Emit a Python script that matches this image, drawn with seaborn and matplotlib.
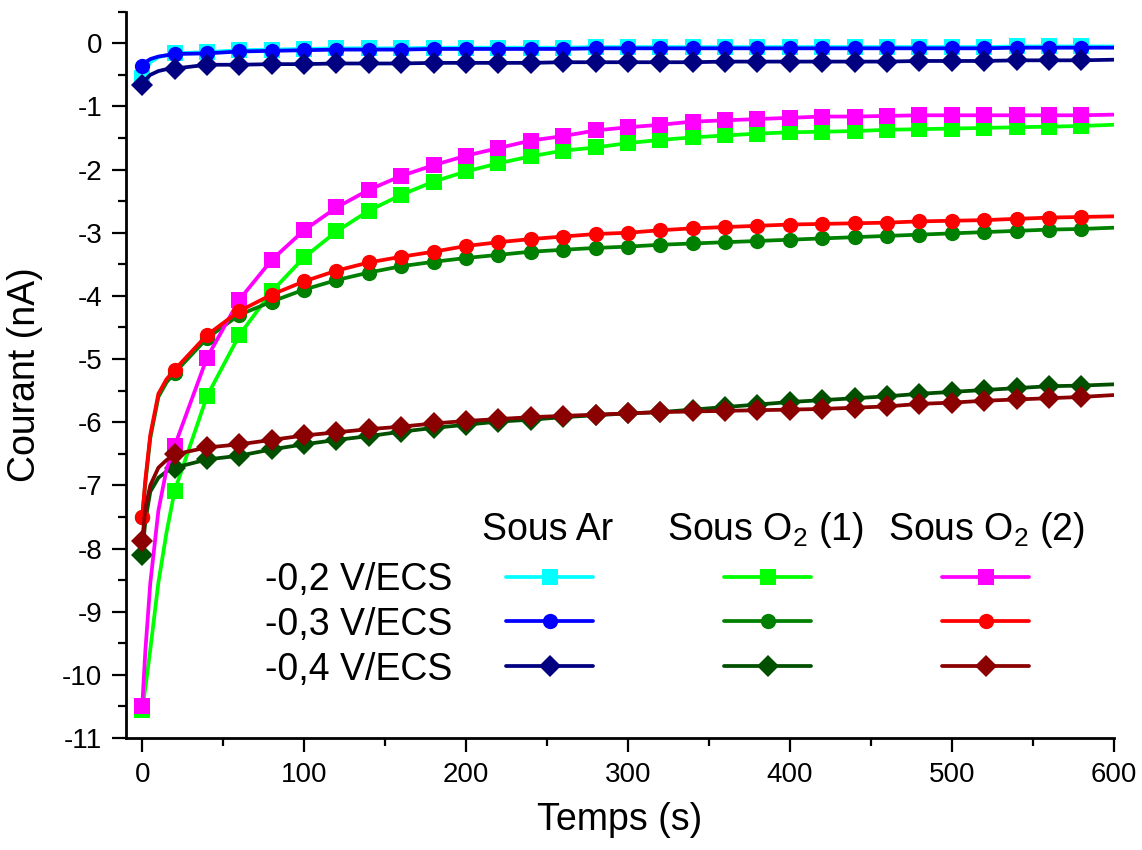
import matplotlib
matplotlib.use("Agg")
import matplotlib.pyplot as plt
import numpy as np
import pandas as pd
import seaborn as sns
from matplotlib.ticker import MultipleLocator, FuncFormatter
from matplotlib.lines import Line2D

# ---------------- data ----------------
temps = [0, 2, 5, 10, 15, 20, 40, 60, 80, 100, 120, 140, 160, 180, 200, 220,
         240, 260, 280, 300, 320, 340, 360, 380, 400, 420, 440, 460, 480, 500,
         520, 540, 560, 580, 600]

# Sous Ar
ar_m02 = [-0.55, -0.42, -0.30, -0.22, -0.19, -0.16, -0.14, -0.11, -0.10, -0.09,
          -0.08, -0.08, -0.08, -0.07, -0.07, -0.07, -0.07, -0.07, -0.06, -0.06,
          -0.06, -0.06, -0.06, -0.06, -0.06, -0.06, -0.06, -0.06, -0.06, -0.06,
          -0.06, -0.05, -0.05, -0.05, -0.05]
ar_m03 = [-0.36, -0.30, -0.25, -0.21, -0.19, -0.17, -0.16, -0.13, -0.12, -0.11,
          -0.10, -0.10, -0.10, -0.09, -0.09, -0.09, -0.09, -0.09, -0.08, -0.08,
          -0.08, -0.08, -0.08, -0.08, -0.08, -0.08, -0.08, -0.08, -0.08, -0.08,
          -0.08, -0.07, -0.07, -0.07, -0.07]
ar_m04 = [-0.66, -0.58, -0.50, -0.44, -0.41, -0.40, -0.34, -0.34, -0.33, -0.33,
          -0.32, -0.32, -0.32, -0.31, -0.31, -0.31, -0.31, -0.30, -0.30, -0.30,
          -0.30, -0.30, -0.29, -0.29, -0.29, -0.29, -0.29, -0.29, -0.28, -0.28,
          -0.28, -0.27, -0.27, -0.27, -0.26]

# Sous O2 (1)
o2a_m02 = [-10.55, -10.2, -9.6, -8.54, -7.75, -7.09, -5.59, -4.62, -3.93, -3.39,
           -2.98, -2.65, -2.40, -2.19, -2.03, -1.90, -1.79, -1.70, -1.65, -1.58,
           -1.53, -1.49, -1.46, -1.43, -1.41, -1.40, -1.39, -1.37, -1.36, -1.35,
           -1.34, -1.33, -1.32, -1.31, -1.29]
o2a_m03 = [-7.50, -6.95, -6.25, -5.60, -5.37, -5.22, -4.67, -4.30, -4.09, -3.90,
           -3.75, -3.63, -3.53, -3.46, -3.40, -3.35, -3.30, -3.27, -3.24, -3.22,
           -3.19, -3.17, -3.15, -3.13, -3.11, -3.09, -3.07, -3.05, -3.03, -3.01,
           -2.99, -2.97, -2.95, -2.94, -2.92]
o2a_m04 = [-8.10, -7.55, -7.10, -6.88, -6.78, -6.72, -6.59, -6.53, -6.43, -6.35,
           -6.28, -6.22, -6.15, -6.09, -6.04, -5.99, -5.96, -5.92, -5.89, -5.86,
           -5.84, -5.80, -5.76, -5.72, -5.68, -5.65, -5.62, -5.59, -5.55, -5.52,
           -5.49, -5.46, -5.43, -5.42, -5.40]

# Sous O2 (2)
o2b_m02 = [-10.5, -9.6, -8.55, -7.4, -6.75, -6.38, -4.98, -4.06, -3.43, -2.96,
           -2.60, -2.32, -2.10, -1.93, -1.78, -1.66, -1.54, -1.47, -1.38, -1.33,
           -1.29, -1.24, -1.22, -1.20, -1.18, -1.16, -1.16, -1.15, -1.14, -1.14,
           -1.14, -1.14, -1.14, -1.14, -1.13]
o2b_m03 = [-7.50, -6.90, -6.20, -5.55, -5.32, -5.17, -4.62, -4.24, -3.98, -3.77,
           -3.60, -3.47, -3.38, -3.30, -3.21, -3.15, -3.10, -3.06, -3.02, -3.00,
           -2.96, -2.93, -2.91, -2.89, -2.87, -2.86, -2.85, -2.84, -2.82, -2.81,
           -2.80, -2.78, -2.76, -2.75, -2.74]
o2b_m04 = [-7.88, -7.35, -7.00, -6.72, -6.60, -6.51, -6.40, -6.35, -6.28, -6.21,
           -6.16, -6.11, -6.07, -6.02, -5.98, -5.95, -5.92, -5.90, -5.88, -5.86,
           -5.84, -5.83, -5.82, -5.81, -5.80, -5.79, -5.77, -5.75, -5.71, -5.69,
           -5.66, -5.64, -5.62, -5.60, -5.57]

conditions = ["Sous Ar", "Sous O$_2$ (1)", "Sous O$_2$ (2)"]
potentials = ["-0,2 V/ECS", "-0,3 V/ECS", "-0,4 V/ECS"]
series_values = [[ar_m02, ar_m03, ar_m04],
                 [o2a_m02, o2a_m03, o2a_m04],
                 [o2b_m02, o2b_m03, o2b_m04]]
colors = [["#00FFFF", "#0000FF", "#000080"],
          ["#00FF00", "#008000", "#005000"],
          ["#FF00FF", "#FF0000", "#8B0000"]]
marker_shapes = ["s", "o", "D"]
marker_sizes = [11.0, 11.0, 11.0]

x_ticks = [0, 100, 200, 300, 400, 500, 600]
y_ticks = [0, -1, -2, -3, -4, -5, -6, -7, -8, -9, -10, -11]

# ---------------- style ----------------
sns.set_style("ticks")
plt.rcParams["font.family"] = ["Liberation Sans", "DejaVu Sans"]
plt.rcParams["mathtext.fontset"] = "custom"
plt.rcParams["mathtext.rm"] = "Liberation Sans"
plt.rcParams["mathtext.it"] = "Liberation Sans:italic"
plt.rcParams["axes.unicode_minus"] = False
plt.rcParams["text.color"] = "black"
plt.rcParams["axes.labelcolor"] = "black"
plt.rcParams["xtick.color"] = "black"
plt.rcParams["ytick.color"] = "black"
plt.rcParams["axes.edgecolor"] = "black"

W, H = 1142, 850
fig = plt.figure(figsize=(W / 100, H / 100), dpi=100)
ax = fig.add_axes([126 / W, 1 - 738 / H, (1113.7 - 126) / W, (738 - 11.7) / H])

rows = []
for ci, cond in enumerate(conditions):
    for pi, pot in enumerate(potentials):
        for t, v in zip(temps, series_values[ci][pi]):
            rows.append({"Temps": t, "Courant": v, "cond": ci, "pot": pi})
df = pd.DataFrame(rows)

mark_idx = [i for i, t in enumerate(temps) if t % 20 == 0 and t < 600]

handles = []
for ci in range(3):
    for pi in range(3):
        sub = df[(df["cond"] == ci) & (df["pot"] == pi)]
        sns.lineplot(data=sub, x="Temps", y="Courant", ax=ax,
                     color=colors[ci][pi], linewidth=2.7,
                     marker=marker_shapes[pi], markersize=marker_sizes[pi],
                     markeredgewidth=0, markeredgecolor=colors[ci][pi],
                     markevery=mark_idx, errorbar=None, sort=False,
                     zorder=3 + ci * 3 + pi)
        handles.append(Line2D([], [], color=colors[ci][pi], linewidth=2.7,
                              marker=marker_shapes[pi],
                              markersize=marker_sizes[pi],
                              markeredgewidth=0))

ax.set_xlim(-10, 600)
ax.set_ylim(-11, 0.5)
ax.set_xticks(x_ticks)
ax.set_yticks(y_ticks)
ax.xaxis.set_minor_locator(MultipleLocator(50))
ax.yaxis.set_minor_locator(MultipleLocator(0.5))
ax.yaxis.set_major_formatter(FuncFormatter(lambda v, p: "%d" % round(v)))
ax.xaxis.set_major_formatter(FuncFormatter(lambda v, p: "%d" % round(v)))

for s in ["top", "right"]:
    ax.spines[s].set_visible(False)
for s in ["left", "bottom"]:
    ax.spines[s].set_linewidth(2.0)
    ax.spines[s].set_color("black")

ax.tick_params(which="major", direction="out", length=10, width=1.6,
               labelsize=20, pad=7, colors="black")
ax.tick_params(which="minor", direction="out", length=5.5, width=1.6,
               colors="black")
ax.set_xlabel("Temps (s)", fontsize=27, labelpad=10, color="black")
ax.set_ylabel("Courant (nA)", fontsize=27, labelpad=14, color="black")

# ---------------- legend table ----------------
fs = 10
leg = fig.legend(handles=handles, labels=[""] * 9, ncol=3, loc="center",
                 bbox_to_anchor=(767.5 / W, 1 - 622 / H),
                 bbox_transform=fig.transFigure, frameon=False,
                 fontsize=fs, numpoints=1, handlelength=87 / (fs * 100 / 72),
                 handletextpad=0, columnspacing=131 / (fs * 100 / 72),
                 labelspacing=2.2, borderpad=0)

header_x = [548, 766, 987]
for hx, cond in zip(header_x, conditions):
    fig.text(hx / W, 1 - 540 / H, cond, ha="center", va="baseline",
             fontsize=27, color="black")
row_y = [577, 622, 667]
for ry, pot in zip(row_y, potentials):
    fig.text(452 / W, 1 - (ry + 13.4) / H, pot, ha="right", va="baseline",
             fontsize=27, color="black")

fig.savefig("out.png", dpi=100)
